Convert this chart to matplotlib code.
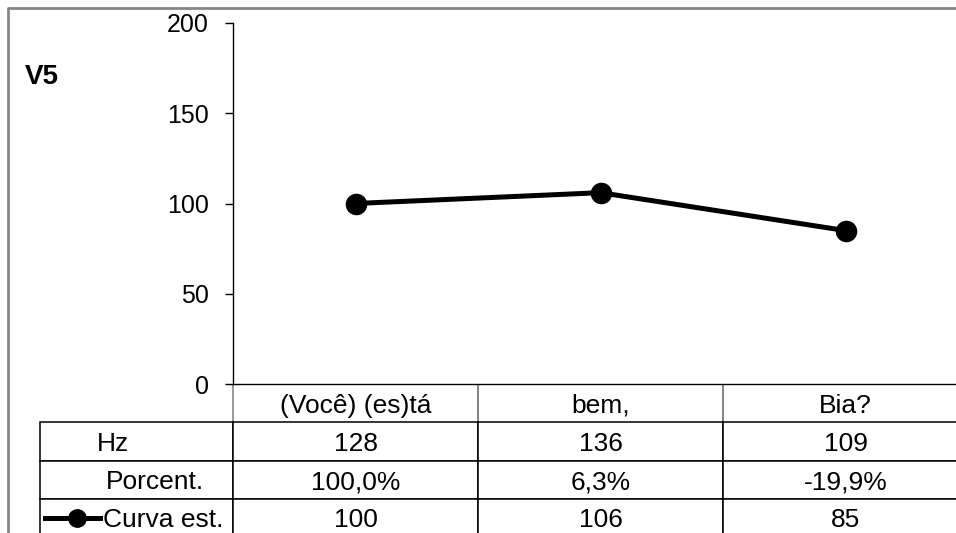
import matplotlib
matplotlib.use("Agg")
import matplotlib.pyplot as plt
from matplotlib.lines import Line2D
from matplotlib.transforms import Affine2D

plt.rcParams['font.family'] = ['Liberation Sans', 'DejaVu Sans']

categories = ["(Você) (es)tá", "bem,", "Bia?"]
hz_values = [128, 136, 109]
percent_labels = ["100,0%", "6,3%", "-19,9%"]
curve_values = [100, 106, 85]
row_labels = ["Hz", "Porcent.", "Curva est."]
y_ticks = [0, 50, 100, 150, 200]
title = "V5"

FW, FH = 956, 533
fig = plt.figure(figsize=(FW / 100, FH / 100), dpi=100)

# axes geometry in pixels
L, R, T, B = 233, 968, 23, 384
ax = fig.add_axes([L / FW, 1 - B / FH, (R - L) / FW, (B - T) / FH])

x = list(range(len(categories)))
ax.plot(x, curve_values, color='black', lw=3.6, marker='o', ms=14.5,
        solid_capstyle='butt', zorder=3)
ax.set_xlim(-0.5, len(categories) - 0.5)
ax.set_ylim(0, 200)
ax.set_yticks(y_ticks)
ax.set_yticklabels([str(v) for v in y_ticks], fontsize=18)
ax.tick_params(axis='y', direction='out', length=6, width=1, pad=11.5)
ax.set_xticks([])
for s in ['top', 'right']:
    ax.spines[s].set_visible(False)
ax.spines['left'].set_linewidth(1)
ax.spines['bottom'].set_linewidth(1)
ax.set_facecolor('none')


def ax_x(px):
    return (px - L) / (R - L)


def ax_y(py):
    return (B - py) / (B - T)


# data table
row_h = 38.3
n_rows = 4
tbl_left = 40
FS = 19
base_off = 0.716 * FS * 100 / 72 / 2  # half cap height, px
cell_text = [[""] + categories,
             [""] + [str(v) for v in hz_values],
             [""] + percent_labels,
             [""] + [str(v) for v in curve_values]]
col_px = [L - tbl_left] + [(R - L) / len(categories)] * len(categories)
tot = sum(col_px)
bbox = [ax_x(tbl_left), ax_y(B + n_rows * row_h), (R - tbl_left) / (R - L),
        n_rows * row_h / (B - T)]
tbl = ax.table(cellText=cell_text, colWidths=[c / tot for c in col_px],
               cellLoc='center', bbox=bbox)
tbl.auto_set_font_size(False)
tbl.set_fontsize(FS)
for (r, c), cell in tbl.get_celld().items():
    cell.set_linewidth(1.1)
    cell.set_edgecolor('black')
    t = cell.get_text()
    t.set_va('baseline')
    t.set_transform(Affine2D().translate(0, -base_off))
    if r == 0 and c == 0:
        cell.visible_edges = ''
    elif r == 0:
        cell.set_edgecolor('#7f7f7f')
        cell.visible_edges = 'LR'
for cell in tbl.get_celld().values():
    cell.set_clip_on(False)

# row labels
label_left = [97, 106, 103]
for i, lab in enumerate(row_labels):
    yc = B + (i + 1.5) * row_h + base_off
    ax.text(ax_x(label_left[i]), ax_y(yc), lab, fontsize=FS, ha='left',
            va='baseline', transform=ax.transAxes, clip_on=False)

# legend key in last row
yk = ax_y(B + 3.5 * row_h)
key = Line2D([ax_x(45), ax_x(100)], [yk, yk], color='black', lw=3.6,
             transform=ax.transAxes, clip_on=False)
ax.add_line(key)
km = Line2D([ax_x(77)], [yk], color='black', marker='o', ms=12.5,
            transform=ax.transAxes, clip_on=False, lw=0)
ax.add_line(km)

# title
fig.text(25 / FW, 1 - 77 / FH, title, fontsize=20, fontweight='bold',
         ha='left', va='center')

# outer gray frame (cut by image borders)
frame = Line2D([8 / FW, 8 / FW, 1.01], [-0.01, 1 - 7.5 / FH, 1 - 7.5 / FH],
               color='#858585', lw=2, transform=fig.transFigure)
fig.add_artist(frame)

fig.savefig("out.png", dpi=100)
